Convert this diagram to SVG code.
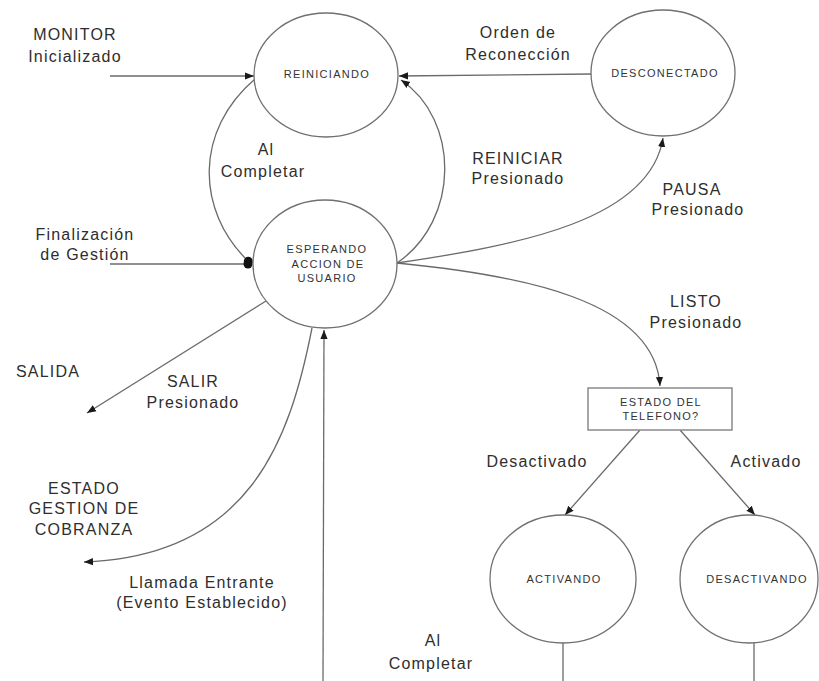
<svg xmlns="http://www.w3.org/2000/svg" width="819" height="681" viewBox="0 0 819 681">
  <style>
    .state { fill: #ffffff; stroke: #707070; stroke-width: 1.3; }
    .box { fill: #ffffff; stroke: #8a8a8a; stroke-width: 1.5; }
    .node-text { font-family: "Liberation Sans", Arial, sans-serif; font-size: 11px; letter-spacing: 1.3px; fill: #333333; text-anchor: middle; }
    .label { font-family: "Liberation Sans", Arial, sans-serif; font-size: 16px; letter-spacing: 1.2px; fill: #2e2e2e; text-anchor: middle; }
    .edge { fill: none; stroke: #6a6a6a; stroke-width: 1.3; }
  </style>
  <defs>
    <marker id="arrow" viewBox="0 0 10 10" refX="10" refY="5" markerWidth="9" markerHeight="9" markerUnits="userSpaceOnUse" orient="auto">
      <path d="M0,1 L10,5 L0,9 z" fill="#1a1a1a"/>
    </marker>
    <marker id="dot" viewBox="0 0 10 10" refX="6" refY="5" markerWidth="10" markerHeight="10" markerUnits="userSpaceOnUse" orient="auto">
      <circle cx="5" cy="5" r="4.5" fill="#111111"/>
    </marker>
  </defs>

  <rect width="819" height="681" fill="#ffffff"/>

  <!-- transitions -->
  <g id="connectors">
    <line class="edge" x1="110" y1="76" x2="254" y2="76" marker-end="url(#arrow)"/>
    <line class="edge" x1="591" y1="74" x2="399" y2="76" marker-end="url(#arrow)"/>
    <path class="edge" d="M255,79 C195,130 195,210 249,262" marker-end="url(#dot)"/>
    <path class="edge" d="M397,263 C460,220 460,120 401,80" marker-end="url(#arrow)"/>
    <line class="edge" x1="110" y1="264" x2="249" y2="264" marker-end="url(#dot)"/>
    <path class="edge" d="M397,263 C520,245 650,220 663,138" marker-end="url(#arrow)"/>
    <path class="edge" d="M397,263 C520,275 655,300 660,386" marker-end="url(#arrow)"/>
    <line class="edge" x1="266" y1="301" x2="87" y2="413" marker-end="url(#arrow)"/>
    <path class="edge" d="M312,328 C290,440 250,556 84,562" marker-end="url(#arrow)"/>
    <line class="edge" x1="323" y1="681" x2="324" y2="330" marker-end="url(#arrow)"/>
    <line class="edge" x1="640" y1="430" x2="565" y2="515" marker-end="url(#arrow)"/>
    <line class="edge" x1="680" y1="430" x2="755" y2="515" marker-end="url(#arrow)"/>
    <line class="edge" x1="563" y1="643" x2="563" y2="681"/>
    <line class="edge" x1="754" y1="643" x2="754" y2="681"/>
  </g>

  <!-- states -->
  <g id="reiniciando">
    <ellipse class="state" cx="326" cy="75" rx="72" ry="62"/>
    <text class="node-text" x="327" y="78">REINICIANDO</text>
  </g>
  <g id="desconectado">
    <ellipse class="state" cx="663" cy="73" rx="72" ry="63"/>
    <text class="node-text" x="665" y="77">DESCONECTADO</text>
  </g>
  <g id="esperando">
    <ellipse class="state" cx="325" cy="264" rx="72" ry="64"/>
    <text class="node-text" x="327" y="253">ESPERANDO</text>
    <text class="node-text" x="328" y="268">ACCION DE</text>
    <text class="node-text" x="327" y="282">USUARIO</text>
  </g>
  <g id="estado-telefono">
    <rect class="box" x="588" y="388" width="144" height="42"/>
    <text class="node-text" x="661" y="406">ESTADO DEL</text>
    <text class="node-text" x="661" y="420">TELEFONO?</text>
  </g>
  <g id="activando">
    <ellipse class="state" cx="563" cy="579" rx="73" ry="64"/>
    <text class="node-text" x="564" y="583">ACTIVANDO</text>
  </g>
  <g id="desactivando">
    <ellipse class="state" cx="749" cy="579" rx="69" ry="64"/>
    <text class="node-text" x="757" y="583">DESACTIVANDO</text>
  </g>

  <!-- transition labels -->
  <g id="labels">
    <text class="label" x="75" y="40">MONITOR</text>
    <text class="label" x="75" y="62">Inicializado</text>
    <text class="label" x="518" y="38">Orden de</text>
    <text class="label" x="518" y="60">Reconección</text>
    <text class="label" x="266" y="155">Al</text>
    <text class="label" x="263" y="177">Completar</text>
    <text class="label" x="518" y="164">REINICIAR</text>
    <text class="label" x="518" y="184">Presionado</text>
    <text class="label" x="692" y="195">PAUSA</text>
    <text class="label" x="698" y="215">Presionado</text>
    <text class="label" x="85" y="240">Finalización</text>
    <text class="label" x="85" y="260">de Gestión</text>
    <text class="label" x="696" y="307">LISTO</text>
    <text class="label" x="696" y="328">Presionado</text>
    <text class="label" x="48" y="377">SALIDA</text>
    <text class="label" x="193" y="387">SALIR</text>
    <text class="label" x="193" y="408">Presionado</text>
    <text class="label" x="84" y="494">ESTADO</text>
    <text class="label" x="84" y="514">GESTION DE</text>
    <text class="label" x="84" y="535">COBRANZA</text>
    <text class="label" x="202" y="588">Llamada Entrante</text>
    <text class="label" x="202" y="608">(Evento Establecido)</text>
    <text class="label" x="537" y="467">Desactivado</text>
    <text class="label" x="766" y="467">Activado</text>
    <text class="label" x="433" y="646">Al</text>
    <text class="label" x="431" y="669">Completar</text>
  </g>
</svg>
